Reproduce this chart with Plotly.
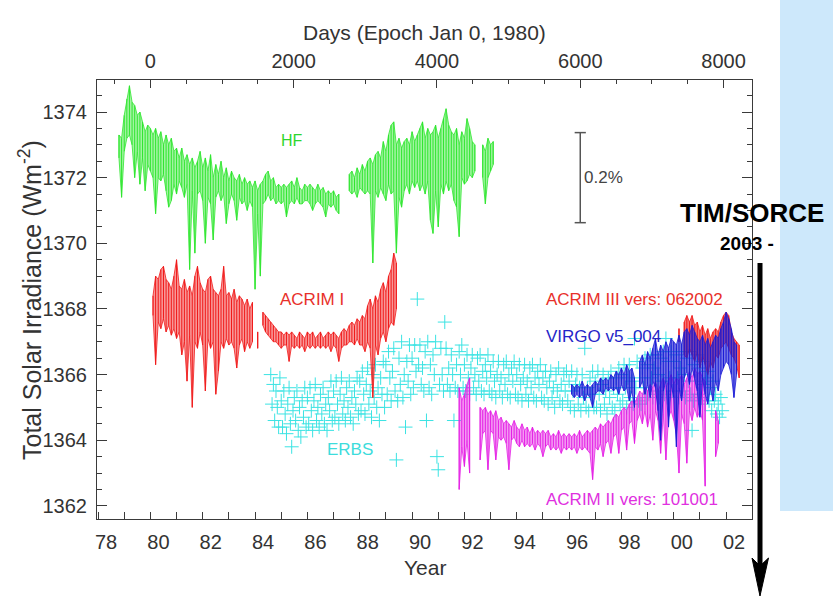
import plotly.graph_objects as go

# ------------------------------------------------------------------
# Data
# ------------------------------------------------------------------
EPOCH_YEAR = 1980.0          # Days epoch: Jan 0, 1980
DAYS_PER_YEAR = 365.25
YEAR_RANGE = [1977.96, 2002.99]
TSI_RANGE = [1361.60, 1374.975]

YEAR_TICKS = [1978, 1980, 1982, 1984, 1986, 1988, 1990, 1992, 1994, 1996, 1998, 2000, 2002]
YEAR_TICK_TEXT = ["78", "80", "82", "84", "86", "88", "90", "92", "94", "96", "98", "00", "02"]
YEAR_MINOR_TICKS = [1979, 1981, 1983, 1985, 1987, 1989, 1991, 1993, 1995, 1997, 1999, 2001]
DAY_TICKS = [0, 2000, 4000, 6000, 8000]
TSI_TICKS = [1362, 1364, 1366, 1368, 1370, 1372, 1374]

STEP = 0.1   # sampling of the hand-read envelopes (years)

# HF (Nimbus-7) upper / lower envelope, 1978.8 .. 1993.1
HF_START = 1978.8
HF_HI = [1373.3, 1373.2, 1373.9, 1374.4, 1374.8, 1374.3, 1374.2, 1373.9, 1374.0, 1373.7,
         1373.4, 1373.6, 1373.5, 1373.3, 1373.5, 1373.2, 1373.4, 1373.0, 1373.3, 1373.0,
         1373.2, 1372.8, 1372.9, 1372.6, 1372.9, 1372.5, 1372.7, 1372.4, 1372.6, 1372.3,
         1372.5, 1372.8, 1372.3, 1372.6, 1372.2, 1372.7, 1372.0, 1372.4, 1372.1, 1372.5,
         1372.0, 1372.3, 1371.9, 1372.2, 1372.0, 1371.9, 1372.1, 1371.8, 1372.0, 1371.8,
         1371.9, 1371.7, 1371.9, 1371.6, 1371.8, 1371.9, 1372.1, 1372.2, 1371.9, 1372.0,
         1371.7, 1371.8, 1371.7, 1371.8, 1371.7, 1371.8, 1371.9, 1371.7, 1372.0, 1371.7,
         1371.6, 1371.8, 1371.7, 1371.8, 1371.7, 1371.6, 1371.8, 1371.6, 1371.7, 1371.5,
         1371.6, 1371.5, 1371.6, 1371.4, 1371.5, None, None, None, 1372.1, 1372.2,
         1372.0, 1372.3, 1372.1, 1372.4, 1372.2, 1372.5, 1372.6, 1372.4, 1372.7, 1372.8,
         1372.6, 1373.1, 1372.8, 1373.3, 1373.6, 1373.7, 1373.0, 1373.2, 1372.9, 1373.1,
         1373.2, 1373.0, 1373.4, 1373.1, 1373.3, 1373.5, 1373.7, 1373.2, 1373.5, 1373.3,
         1373.4, 1373.6, 1373.2, 1373.5, 1373.8, 1374.1, 1373.6, 1373.4, 1373.3, 1373.5,
         1373.0, 1373.4, 1373.2, 1373.8, 1373.5, 1373.1, 1373.0, None, None, 1373.0,
         1372.8, 1373.2, 1373.0, 1373.1]
HF_LO = [1372.6, 1371.4, 1372.8, 1373.2, 1373.3, 1373.0, 1372.0, 1372.8, 1371.8, 1372.6,
         1371.6, 1372.4, 1372.2, 1372.0, 1370.9, 1372.0, 1371.9, 1372.1, 1371.6, 1371.1,
         1371.3, 1371.8, 1371.5, 1371.9, 1371.7, 1371.4, 1371.8, 1369.2, 1371.6, 1369.7,
         1371.5, 1371.6, 1371.3, 1370.0, 1371.4, 1371.2, 1370.1, 1371.4, 1371.6, 1371.3,
         1371.5, 1370.6, 1371.2, 1371.5, 1371.3, 1370.7, 1371.4, 1371.2, 1371.3, 1371.0,
         1371.3, 1371.1, 1368.6, 1370.9, 1369.0, 1371.2, 1371.3, 1371.5, 1371.3, 1371.4,
         1371.2, 1371.3, 1371.2, 1371.3, 1370.8, 1371.2, 1371.3, 1371.2, 1371.4, 1371.2,
         1371.2, 1371.3, 1371.3, 1371.2, 1371.0, 1371.2, 1371.3, 1371.2, 1371.1, 1370.8,
         1371.2, 1371.1, 1371.2, 1371.0, 1370.9, None, None, None, 1371.6, 1371.5,
         1371.6, 1371.4, 1371.7, 1371.6, 1371.5, 1371.6, 1371.5, 1369.4, 1371.6, 1371.4,
         1371.7, 1371.5, 1371.3, 1371.8, 1371.5, 1371.6, 1369.7, 1371.4, 1371.1, 1371.6,
         1371.8, 1371.5, 1371.9, 1371.7, 1371.9, 1371.6, 1371.8, 1371.5, 1371.9, 1370.7,
         1370.3, 1371.6, 1370.5, 1371.8, 1371.5, 1371.9, 1371.6, 1371.8, 1371.3, 1371.1,
         1370.2, 1372.0, 1371.8, 1371.9, 1372.1, 1372.0, 1372.2, None, None, 1372.0,
         1371.2, 1372.0, 1372.2, 1372.4]

# ACRIM I, 1980.1 .. 1989.4
ACRIM1_START = 1980.1
ACRIM1_HI = [1368.4, 1369.0, 1368.9, 1369.2, 1369.3, 1368.9, 1368.8, 1368.6, 1369.0, 1369.5,
             1368.7, 1368.6, 1368.9, 1368.5, 1368.7, 1368.4, 1369.0, 1369.3, 1368.8, 1368.6,
             1368.5, 1368.9, 1369.0, 1368.6, 1368.5, 1368.4, 1368.6, 1369.3, 1368.4, 1368.5,
             1368.3, 1368.6, 1368.2, 1368.4, 1368.3, 1368.1, 1368.3, 1368.0, 1368.2, None,
             1367.3, None, 1367.9, 1367.8, 1367.7, 1367.6, 1367.5, 1367.4, 1367.3, 1367.3,
             1367.2, 1367.3, 1367.2, 1367.3, 1367.2, 1367.1, 1367.3, 1367.2, 1367.1, 1367.3,
             1367.2, 1367.3, 1367.1, 1367.2, 1367.3, 1367.1, 1367.2, 1367.3, 1367.2, 1367.3,
             1367.2, 1367.1, 1367.3, 1367.4, 1367.3, 1367.5, 1367.6, 1367.5, 1367.7, 1367.6,
             1367.8, 1367.7, 1368.1, 1368.3, 1368.0, 1368.4, 1368.2, 1368.6, 1368.8, 1368.5,
             1369.0, 1369.2, 1369.7, 1369.4]
ACRIM1_LO = [1367.8, 1366.3, 1367.6, 1367.4, 1367.7, 1367.3, 1367.5, 1367.2, 1367.4, 1367.1,
             1367.3, 1366.6, 1367.0, 1365.8, 1367.2, 1365.0, 1367.0, 1366.8, 1367.3, 1366.9,
             1365.5, 1367.1, 1366.8, 1367.0, 1365.4, 1366.1, 1367.0, 1366.8, 1367.1, 1366.9,
             1367.0, 1366.8, 1366.2, 1366.9, 1367.1, 1366.7, 1367.0, 1366.8, 1367.0, None,
             1366.8, None, 1367.5, 1367.3, 1367.2, 1367.1, 1367.0, 1367.0, 1366.9, 1366.8,
             1366.9, 1366.9, 1366.4, 1366.9, 1366.8, 1366.9, 1366.8, 1366.9, 1366.7, 1366.9,
             1366.8, 1366.9, 1366.8, 1366.9, 1366.8, 1366.9, 1366.8, 1366.9, 1366.7, 1366.9,
             1366.8, 1366.4, 1366.8, 1366.9, 1366.9, 1367.0, 1367.0, 1366.9, 1367.1, 1366.9,
             1366.9, 1366.7, 1367.0, 1366.8, 1365.3, 1366.9, 1366.6, 1367.1, 1367.3, 1367.0,
             1367.4, 1367.6, 1367.5, 1368.0]

# ERBS crosses, one reading every 0.05 yr, 1984.60 .. 2001.85
ERBS_START = 1984.6
ERBS_STEP = 0.05
ERBS_TSI = [
    1366.0, 1365.1, 1365.7, 1364.6, 1365.5, 1365.0, 1364.4, 1365.9,
    1365.2, 1364.4, 1365.5, 1364.8, 1364.2, 1365.1, 1365.6, 1364.5, 1363.8, 1364.9,
    1365.3, 1364.6, 1365.5, 1364.3, 1365.0, 1364.1, 1365.2, 1364.7, 1365.6, 1364.4,
    1365.3, 1364.5, 1365.6, 1364.9, 1364.3, 1365.2, 1365.7, 1364.6, 1365.0, 1364.4,
    1365.4, 1364.8, 1365.6, 1364.5, 1365.1, 1364.3, 1365.3, 1364.9, 1365.8, 1364.6,
    1365.5, 1364.7, 1365.8, 1365.1, 1364.5, 1365.4, 1365.9, 1364.8, 1365.2, 1364.6,
    1365.6, 1365.0, 1365.8, 1364.7, 1365.3, 1364.5, 1365.5, 1365.1, 1365.9, 1364.8,
    1365.8, 1364.9, 1366.1, 1365.4, 1364.8, 1365.7, 1366.2, 1365.1, 1365.5, 1364.7,
    1366.0, 1365.3, 1366.3, 1365.0, 1365.6, 1364.6, 1365.9, 1365.4, 1366.4, 1365.0,
    1366.3, 1365.4, 1366.7, 1365.9, 1365.2, 1366.1, 1366.8, 1365.5, 1363.4, 1365.2,
    1366.5, 1365.7, 1367.0, 1365.3, 1366.0, 1364.4, 1366.4, 1365.8, 1366.9, 1365.4,
    1366.5, 1365.6, 1366.9, 1366.1, 1368.3, 1366.3, 1366.9, 1365.7, 1366.2, 1365.5,
    1366.7, 1364.6, 1367.0, 1365.6, 1366.3, 1365.4, 1366.6, 1366.0, 1367.0, 1363.5,
    1363.1, 1365.7, 1366.8, 1366.0, 1365.5, 1367.6, 1366.8, 1365.7, 1366.2, 1365.5,
    1366.6, 1366.0, 1364.6, 1365.6, 1366.3, 1365.5, 1366.7, 1366.0, 1366.9, 1365.6,
    1366.3, 1365.5, 1366.6, 1365.9, 1365.4, 1366.2, 1366.6, 1365.6, 1366.0, 1365.4,
    1366.5, 1365.8, 1366.6, 1365.5, 1366.1, 1365.4, 1366.3, 1365.9, 1366.6, 1365.5,
    1366.1, 1365.4, 1366.4, 1365.8, 1365.3, 1366.0, 1366.4, 1365.5, 1365.9, 1365.3,
    1366.3, 1365.7, 1366.4, 1365.4, 1366.0, 1365.3, 1366.2, 1365.8, 1366.4, 1365.4,
    1366.0, 1365.3, 1366.3, 1365.7, 1365.2, 1365.9, 1366.3, 1365.4, 1365.8, 1365.2,
    1366.2, 1365.6, 1366.3, 1365.3, 1365.9, 1365.2, 1366.1, 1365.7, 1366.3, 1365.3,
    1365.9, 1365.2, 1366.1, 1365.6, 1365.1, 1365.8, 1366.1, 1365.3, 1365.6, 1365.0,
    1366.0, 1365.5, 1366.2, 1365.2, 1365.7, 1365.1, 1366.0, 1365.5, 1366.1, 1365.2,
    1365.8, 1365.0, 1366.1, 1365.5, 1364.9, 1365.7, 1366.0, 1365.1, 1365.6, 1364.9,
    1366.0, 1365.3, 1366.8, 1365.0, 1365.6, 1364.9, 1365.9, 1365.4, 1366.1, 1365.0,
    1365.8, 1365.0, 1366.1, 1365.4, 1364.9, 1365.7, 1366.0, 1365.1, 1365.5, 1364.8,
    1365.9, 1365.3, 1366.1, 1365.0, 1365.6, 1364.9, 1365.9, 1365.4, 1366.2, 1365.1,
    1366.0, 1365.2, 1366.3, 1365.6, 1365.0, 1365.9, 1366.3, 1365.3, 1365.8, 1365.1,
    1367.1, 1365.6, 1366.4, 1365.2, 1365.9, 1365.1, 1366.2, 1365.6, 1366.5, 1365.3,
    1366.3, 1365.4, 1366.6, 1365.9, 1365.3, 1366.2, 1366.6, 1365.5, 1366.0, 1365.3,
    1366.5, 1365.8, 1366.7, 1365.4, 1367.1, 1365.3, 1366.4, 1365.9, 1366.7, 1365.5,
    1366.4, 1365.5, 1366.6, 1365.9, 1365.3, 1366.2, 1366.7, 1365.5, 1366.0, 1365.3,
    1366.5, 1365.8, 1366.7, 1365.4, 1364.3, 1365.2, 1366.3, 1365.8, 1366.6, 1365.4,
    1366.2, 1365.3, 1366.4, 1365.7, 1365.1, 1365.9, 1366.1, 1365.2, 1365.6, 1364.9,
    1365.8, 1365.2, 1365.4, 1364.8, 1365.1, 1364.7, 1365.3, 1364.9]

# ACRIM II (vers 101001), 1991.8 .. 2001.7
ACRIM2_START = 1991.8
ACRIM2_HI = [1365.6, 1365.2, 1365.4, 1365.7, 1365.9, None, None, None, 1365.0, 1364.9,
             1365.0, 1364.8, 1364.9, 1364.7, 1364.9, 1364.6, 1364.7, 1364.5, 1364.6, 1364.5,
             1364.4, 1364.6, 1364.4, 1364.3, 1364.5, 1364.3, 1364.4, 1364.2, 1364.4, 1364.2,
             1364.3, 1364.2, 1364.3, 1364.2, 1364.3, 1364.1, 1364.2, 1364.1, 1364.3, 1364.1,
             1364.2, 1364.1, 1364.2, 1364.1, 1364.2, 1364.1, 1364.3, 1364.1, 1364.2, 1364.3,
             1364.2, 1364.3, 1364.4, 1364.3, 1364.5, 1364.4, 1364.5, 1364.6, 1364.5, 1364.7,
             1364.8, 1364.7, 1364.9, 1365.0, 1364.9, 1365.1, 1365.2, 1365.1, 1365.3, 1365.5,
             1365.4, 1365.6, 1365.5, 1365.7, 1365.6, 1365.8, 1365.5, 1365.7, 1365.9, 1365.6,
             1365.8, 1366.0, 1365.7, 1365.9, 1365.8, 1366.0, 1365.7, 1365.9, 1366.1, 1365.9,
             1366.2, 1366.0, 1366.1, 1365.9, 1365.8, None, None, None, 1364.9, 1364.6]
ACRIM2_LO = [1362.5, 1363.8, 1363.2, 1364.0, 1363.0, None, None, None, 1363.4, 1364.2,
             1364.3, 1363.1, 1364.3, 1364.2, 1363.4, 1364.1, 1364.0, 1364.1, 1363.9, 1363.1,
             1364.0, 1364.1, 1363.9, 1363.8, 1364.0, 1363.8, 1363.9, 1363.8, 1363.9, 1363.7,
             1363.9, 1363.8, 1363.5, 1363.8, 1363.9, 1363.7, 1363.8, 1363.7, 1363.8, 1363.6,
             1363.8, 1363.7, 1363.8, 1363.7, 1363.8, 1363.6, 1363.8, 1363.7, 1363.8, 1363.7,
             1363.6, 1362.8, 1363.8, 1363.7, 1363.9, 1363.5, 1363.9, 1364.0, 1363.6, 1364.1,
             1364.2, 1363.6, 1364.3, 1364.4, 1363.7, 1364.5, 1364.6, 1363.9, 1364.6, 1364.8,
             1364.5, 1364.9, 1364.4, 1364.8, 1364.0, 1364.9, 1364.6, 1363.6, 1364.8, 1363.4,
             1364.7, 1364.9, 1364.6, 1364.2, 1363.0, 1364.8, 1364.5, 1363.3, 1364.9, 1364.6,
             1365.0, 1364.7, 1364.9, 1364.6, 1362.6, None, None, None, 1363.5, 1363.9]

# VIRGO v5_004, 1996.1 .. 2002.4
VIRGO_START = 1996.1
VIRGO_HI = [1365.7, 1365.6, 1365.7, 1365.6, 1365.8, 1365.6, 1365.7, 1365.6, 1365.7, 1365.8,
            1365.7, 1365.9, 1365.8, 1365.9, 1365.8, 1366.0, 1365.9, 1366.1, 1366.0, 1366.2,
            1366.0, 1366.3, 1366.1, 1366.2, 1365.9, None, 1366.4, 1366.6, 1366.3, 1366.7,
            1366.5, 1366.8, 1367.1, 1366.6, 1366.9, 1366.7, 1367.0, 1366.8, 1367.1, 1367.0,
            1366.9, 1367.2, 1366.9, 1367.3, 1367.4, 1367.2, 1367.5, 1367.3, 1367.1, 1367.0,
            1367.2, 1366.9, 1367.1, 1366.8, 1367.0, 1367.2, 1367.1, 1367.4, 1367.6, 1367.9,
            1367.7, 1367.4, 1367.0, 1366.9]
VIRGO_LO = [1365.4, 1365.3, 1365.4, 1365.3, 1365.4, 1365.2, 1365.4, 1365.3, 1365.0, 1365.4,
            1365.5, 1365.5, 1365.4, 1365.6, 1365.5, 1365.6, 1365.5, 1365.6, 1365.4, 1365.7,
            1365.5, 1365.6, 1365.2, 1365.5, 1365.0, None, 1365.6, 1365.8, 1365.4, 1365.7,
            1365.3, 1365.8, 1365.6, 1364.9, 1364.0, 1365.5, 1365.8, 1364.4, 1365.7, 1365.3,
            1363.8, 1365.6, 1365.2, 1365.9, 1366.1, 1365.7, 1366.2, 1365.9, 1365.5, 1364.7,
            1365.9, 1365.4, 1365.1, 1365.6, 1365.2, 1365.8, 1365.5, 1366.0, 1366.2, 1366.4,
            1366.3, 1366.0, 1365.3, 1366.0]

# ACRIM III (vers 062002), 2000.2 .. 2002.5
ACRIM3_START = 2000.2
ACRIM3_HI = [1367.4, None, 1367.6, 1367.8, 1367.6, 1367.8, 1367.5, 1367.6, 1367.3, 1367.5,
             1367.2, 1367.4, 1367.1, 1367.3, 1367.4, 1367.3, 1367.6, 1367.8, 1367.9, 1367.8,
             1367.3, 1367.1, 1367.0, 1366.9]
ACRIM3_LO = [1367.0, None, 1366.6, 1366.5, 1366.8, 1366.6, 1366.4, 1366.7, 1366.2, 1366.6,
             1366.3, 1366.0, 1366.4, 1366.2, 1366.6, 1366.5, 1366.8, 1366.9, 1367.0, 1366.8,
             1366.6, 1366.5, 1366.3, 1365.9]

# 0.2 % scale bar (centre value, plotted at a day position)
SCALE_BAR_DAY = 6000
SCALE_BAR_CENTER = 1372.0
SCALE_BAR_FRACTION = 0.002

# ------------------------------------------------------------------
# Layout geometry (pixels)
# ------------------------------------------------------------------
W, H = 833, 602
ML, MR, MT, MB = 97, 81, 80, 83
PW, PH = W - ML - MR, H - MT - MB
FONT = "Liberation Sans, Arial, Helvetica, sans-serif"
AXIS_COLOR = "#3a3a3a"
TEXT_COLOR = "#333333"


def px_x(px):
    return (px - ML) / PW


def px_y(py):
    return (H - MB - py) / PH


def band_polygon(start, hi, lo, step=STEP):
    """Closed outline along the upper readings and back along the lower ones."""
    xs, ys = [], []
    seg = []

    def flush():
        if not seg:
            return
        xs.extend([p[0] for p in seg] + [p[0] for p in reversed(seg)] + [seg[0][0], None])
        ys.extend([p[1] for p in seg] + [p[2] for p in reversed(seg)] + [seg[0][1], None])
        seg.clear()

    for i, (h, l) in enumerate(zip(hi, lo)):
        if h is None or l is None:
            flush()
            continue
        seg.append((round(start + i * step, 4), h, l))
    flush()
    return xs, ys


def band_strokes(start, hi, lo, step=STEP):
    """One vertical stroke from the upper to the lower reading at each sample."""
    xs, ys = [], []
    for i, (h, l) in enumerate(zip(hi, lo)):
        if h is None or l is None:
            continue
        t = round(start + i * step, 4)
        xs += [t, t, None]
        ys += [h, l, None]
    return xs, ys


fig = go.Figure()

# ERBS crosses
erbs_x = [round(ERBS_START + i * ERBS_STEP, 4) for i in range(len(ERBS_TSI))]
fig.add_trace(go.Scatter(x=erbs_x, y=ERBS_TSI, mode="markers", name="ERBS",
                         marker=dict(symbol="cross-thin", size=10,
                                     line=dict(color="#3BE3E3", width=1))))

series = [
    ("HF", HF_START, HF_HI, HF_LO, (47, 230, 47), 0.45),
    ("ACRIM I", ACRIM1_START, ACRIM1_HI, ACRIM1_LO, (240, 26, 26), 0.45),
    ("ACRIM II", ACRIM2_START, ACRIM2_HI, ACRIM2_LO, (228, 31, 228), 0.45),
    ("ACRIM III", ACRIM3_START, ACRIM3_HI, ACRIM3_LO, (240, 26, 26), 0.6),
    ("VIRGO", VIRGO_START, VIRGO_HI, VIRGO_LO, (26, 26, 214), 0.6),
]
for name, start, hi, lo, rgb, alpha in series:
    solid = "rgb({},{},{})".format(*rgb)
    light = "rgba({},{},{},{})".format(*rgb, alpha)
    xs, ys = band_polygon(start, hi, lo)
    fig.add_trace(go.Scatter(x=xs, y=ys, mode="lines", name=name, fill="toself",
                             fillcolor=light, line=dict(color=solid, width=0.8)))
    xs, ys = band_strokes(start, hi, lo)
    fig.add_trace(go.Scatter(x=xs, y=ys, mode="lines", name=name,
                             line=dict(color=solid, width=1)))

# scale bar on the days axis
half = SCALE_BAR_CENTER * SCALE_BAR_FRACTION / 2
fig.add_trace(go.Scatter(x=[SCALE_BAR_DAY, SCALE_BAR_DAY],
                         y=[SCALE_BAR_CENTER - half, SCALE_BAR_CENTER + half],
                         xaxis="x2", yaxis="y", mode="lines+markers",
                         line=dict(color="#555555", width=1.5),
                         marker=dict(symbol="line-ew", size=8,
                                     line=dict(color="#555555", width=1.5))))

day_range = [(YEAR_RANGE[0] - EPOCH_YEAR) * DAYS_PER_YEAR,
             (YEAR_RANGE[1] - EPOCH_YEAR) * DAYS_PER_YEAR]

tickfont = dict(family=FONT, size=20, color=TEXT_COLOR)

fig.update_layout(
    width=W, height=H,
    margin=dict(l=ML, r=MR, t=MT, b=MB, pad=0),
    paper_bgcolor="white", plot_bgcolor="white",
    showlegend=False,
    xaxis=dict(range=YEAR_RANGE, tickmode="array", tickvals=YEAR_TICKS,
               ticktext=YEAR_TICK_TEXT, ticks="inside", ticklen=7, tickwidth=1,
               tickcolor=AXIS_COLOR, showline=True, linecolor=AXIS_COLOR, linewidth=1.2,
               showgrid=False, zeroline=False, tickfont=tickfont,
               ticklabelshift=8, ticklabelstandoff=5,
               minor=dict(tickmode="array", tickvals=YEAR_MINOR_TICKS, ticks="inside",
                          ticklen=7, tickcolor=AXIS_COLOR, showgrid=False)),
    xaxis2=dict(range=day_range, overlaying="x", side="top", anchor="y",
                tickmode="array", tickvals=DAY_TICKS, ticks="inside", ticklen=8,
                tickwidth=1, tickcolor=AXIS_COLOR, showline=True, linecolor=AXIS_COLOR,
                linewidth=1.2, showgrid=False, zeroline=False, tickfont=tickfont,
                ticklabelstandoff=3,
                minor=dict(dtick=500, tick0=0, ticks="inside", ticklen=4,
                           tickcolor=AXIS_COLOR, showgrid=False)),
    yaxis=dict(range=TSI_RANGE, tickmode="array", tickvals=TSI_TICKS, ticks="inside",
               ticklen=10, tickwidth=1, tickcolor=AXIS_COLOR, showline=True,
               linecolor=AXIS_COLOR, linewidth=1.2, mirror="ticks", showgrid=False,
               zeroline=False, tickfont=tickfont, ticklabelstandoff=5,
               minor=dict(dtick=0.5, tick0=1362, ticks="inside", ticklen=5,
                          tickcolor=AXIS_COLOR, showgrid=False)),
)

ann = []
# axis titles
ann.append(dict(text="Days (Epoch Jan 0, 1980)", xref="paper", yref="paper",
                x=px_x(424), y=px_y(32), xanchor="center", yanchor="middle",
                showarrow=False, font=dict(family=FONT, size=21, color=TEXT_COLOR)))
ann.append(dict(text="Year", xref="paper", yref="paper", x=px_x(425), y=px_y(567),
                xanchor="center", yanchor="middle",
                showarrow=False, font=dict(family=FONT, size=21, color=TEXT_COLOR)))
ann.append(dict(text="Total Solar Irradiance (Wm<sup>-2</sup>)", xref="paper", yref="paper",
                x=px_x(30), y=px_y(300), xanchor="center", yanchor="middle",
                textangle=-90, showarrow=False,
                font=dict(family=FONT, size=25, color=TEXT_COLOR)))

# series labels (data coordinates)
labels = [
    ("HF", 1985.41, 1373.13, "center", "#2ED62E", 16),
    ("ACRIM I", 1986.17, 1368.28, "center", "#E8302A", 17),
    ("ERBS", 1987.62, 1363.71, "center", "#3DDCDC", 17),
    ("ACRIM III vers: 062002", 1995.05, 1368.28, "left", "#E8302A", 17),
    ("VIRGO v5_004", 1995.05, 1367.15, "left", "#2525C8", 17),
    ("ACRIM II vers: 101001", 1995.05, 1362.18, "left", "#E030E0", 17),
]
for text, xv, yv, anchor, color, size in labels:
    ann.append(dict(text=text, x=xv, y=yv, xref="x", yref="y", xanchor=anchor,
                    yanchor="middle", showarrow=False,
                    font=dict(family=FONT, size=size, color=color)))

ann.append(dict(text="0.2%", x=SCALE_BAR_DAY, y=SCALE_BAR_CENTER, xref="x2", yref="y",
                xanchor="left", yanchor="middle", xshift=2, showarrow=False,
                font=dict(family=FONT, size=17, color="#444444")))

# TIM/SORCE note
ann.append(dict(text="<b>TIM/SORCE</b>", xref="paper", yref="paper", x=px_x(752),
                y=px_y(213), xanchor="center", yanchor="middle", showarrow=False,
                font=dict(family=FONT, size=26, color="black")))
ann.append(dict(text="<b>2003 -</b>", xref="paper", yref="paper", x=px_x(747),
                y=px_y(244), xanchor="center", yanchor="middle", showarrow=False,
                font=dict(family=FONT, size=19, color="black")))
fig.update_layout(annotations=ann)

# decorations: light-blue panel and the black arrow
shapes = [
    dict(type="rect", xref="paper", yref="paper", x0=px_x(780), x1=px_x(840),
         y0=px_y(511), y1=px_y(-5), fillcolor="#CDE8FB", line=dict(width=0),
         layer="below"),
    dict(type="line", xref="paper", yref="paper", x0=px_x(760), x1=px_x(760),
         y0=px_y(263), y1=px_y(570), line=dict(color="black", width=5)),
    dict(type="path", xref="paper", yref="paper",
         path="M {:.5f} {:.5f} L {:.5f} {:.5f} L {:.5f} {:.5f} L {:.5f} {:.5f} Z".format(
             px_x(752), px_y(558), px_x(760), px_y(596), px_x(768.5), px_y(558),
             px_x(760), px_y(566)),
         fillcolor="black", line=dict(color="black", width=1)),
]
fig.update_layout(shapes=shapes)

fig.write_html("out.html", config={"displayModeBar": False},
               post_script="document.body.style.margin='0px';document.body.style.padding='0px';")
